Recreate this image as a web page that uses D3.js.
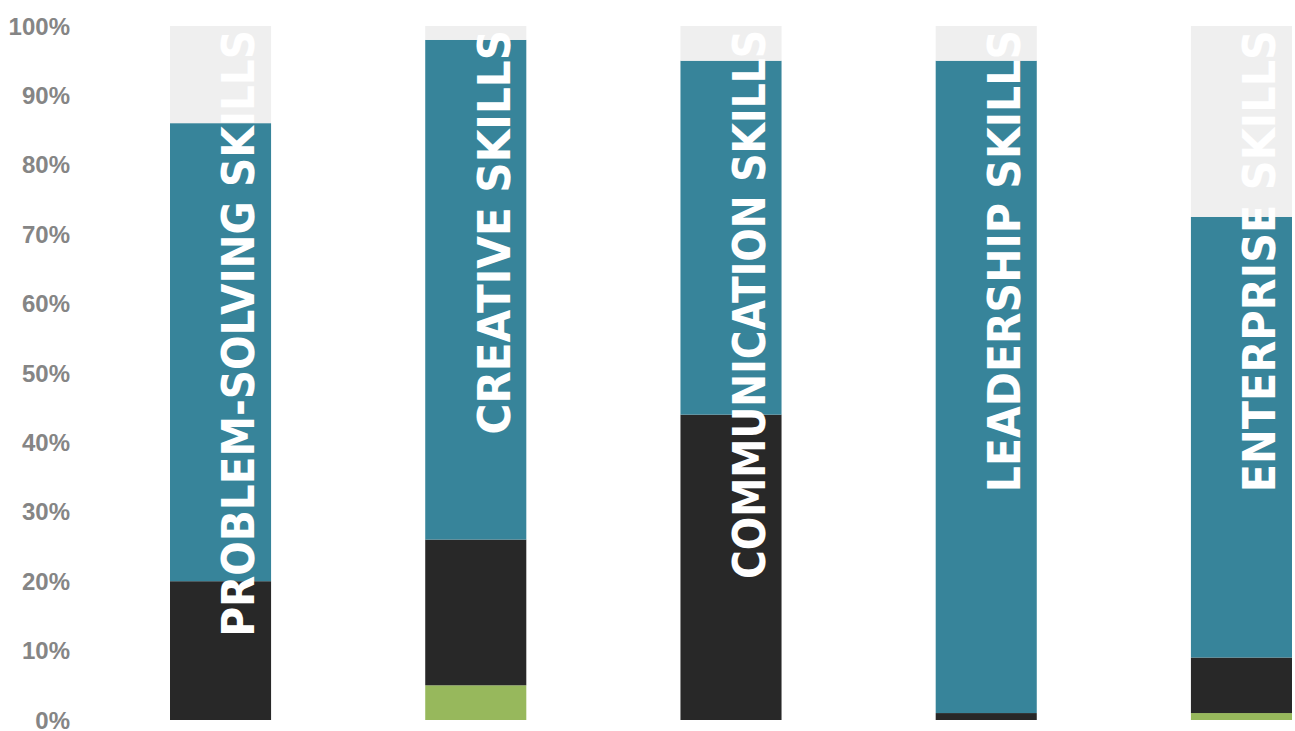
<!DOCTYPE html>
<html lang="en">
<head>
<meta charset="utf-8">
<title>Skills chart</title>
<script src="https://cdn.jsdelivr.net/npm/d3@7"></script>
<style>
  body { margin: 0; background: #fff; }
  .tickLabel { font-family: "Liberation Sans", Arial, sans-serif; font-weight: bold; font-size: 24px; fill: #858585; }
  .skillLabel { font-family: "DejaVu Sans", sans-serif; font-weight: bold; font-size: 45px; fill: #fff; }
</style>
</head>
<body>
<div id="chart"></div>
<script>
  // values in percent, bottom segment first
  var categories = ["PROBLEM-SOLVING SKILLS", "CREATIVE SKILLS", "COMMUNICATION SKILLS", "LEADERSHIP SKILLS", "ENTERPRISE SKILLS"]
  var greenVals = [0, 5, 0, 0, 1]
  var blackVals = [20, 21, 44, 1, 8]
  var tealVals = [66, 72, 51, 94, 63.5]
  var yTicks = [0, 10, 20, 30, 40, 50, 60, 70, 80, 90, 100]

  var width = 1295, height = 731
  var colors = { green: "#97b85c", black: "#282828", teal: "#37849a", rest: "#efefef" }

  var rows = categories.map(function(c, i) {
    return { cat: c, green: greenVals[i], black: blackVals[i], teal: tealVals[i],
      rest: 100 - greenVals[i] - blackVals[i] - tealVals[i] }
  })

  var svg = d3.select("#chart").append("svg").attr("width", width).attr("height", height)

  var x = d3.scaleBand().domain(categories).range([170, 1292]).paddingInner(0.604).paddingOuter(0).align(0)
  var y = d3.scaleLinear().domain([0, 100]).range([720, 26])

  // y labels only, no axis line
  svg.selectAll(".tickLabel")
    .data(yTicks)
    .enter()
    .append("text")
    .attr("class", "tickLabel")
    .attr("x", 70)
    .attr("y", function(d) { return y(d) })
    .attr("dy", "0.36em")
    .attr("text-anchor", "end")
    .text(function(d) { return d + "%" })

  var stack = d3.stack().keys(["green", "black", "teal", "rest"])
  var layers = stack(rows)

  svg.selectAll(".layer")
    .data(layers)
    .enter()
    .append("g")
    .attr("class", "layer")
    .attr("fill", function(d) { return colors[d.key] })
    .selectAll("rect")
    .data(function(d) { return d })
    .enter()
    .append("rect")
    .attr("x", function(d) { return x(d.data.cat) })
    .attr("width", x.bandwidth())
    .attr("y", function(d) { return y(d[1]) })
    .attr("height", function(d) { return y(d[0]) - y(d[1]) })

  // vertical white labels, letter spaced
  svg.selectAll(".skillLabel")
    .data(categories)
    .enter()
    .append("text")
    .attr("class", "skillLabel")
    .attr("text-anchor", "end")
    .attr("textLength", function(d) { return d.length * 28.9 - 29 })
    .attr("lengthAdjust", "spacingAndGlyphs")
    .attr("transform", function(d) {
      return "translate(" + (x(d) + x.bandwidth() * 0.835) + "," + (y(100) + 4) + ") rotate(-90)"
    })
    .text(function(d) { return d })
</script>
</body>
</html>
